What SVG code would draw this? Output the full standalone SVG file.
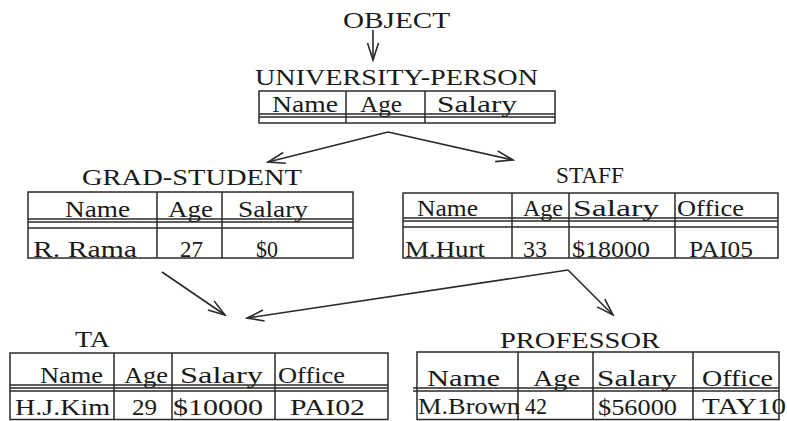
<svg xmlns="http://www.w3.org/2000/svg" width="787" height="421" viewBox="0 0 787 421">
<style>
.t{font-family:"Liberation Serif","Times New Roman",serif;font-size:24px;fill:#1a1a1a}
.c{font-family:"Liberation Serif","Times New Roman",serif;font-size:23px;fill:#1a1a1a}
.b{fill:none;stroke:#2a2a2a;stroke-width:1.5}
.a{fill:none;stroke:#2a2a2a;stroke-width:1.6}
</style>
<defs>
<marker id="arr" markerUnits="userSpaceOnUse" markerWidth="20" markerHeight="14" refX="18" refY="7" orient="auto">
<path d="M1,1.5 L18,7 L1,12.5" fill="none" stroke="#2a2a2a" stroke-width="1.6"/>
</marker>
</defs>
<rect width="787" height="421" fill="#ffffff"/>

<g id="object">
<text class="t" x="343" y="28" textLength="107" lengthAdjust="spacingAndGlyphs">OBJECT</text>
</g>

<g id="university-person">
<text class="t" x="255" y="85" textLength="283" lengthAdjust="spacingAndGlyphs">UNIVERSITY-PERSON</text>
<rect class="b" x="259" y="91" width="296" height="32"/>
<path class="b" d="M259,114 H555 M259,117 H555 M346,91 V123 M425,91 V123"/>
<text class="c" x="272" y="112" textLength="66" lengthAdjust="spacingAndGlyphs">Name</text>
<text class="c" x="360" y="112" textLength="42" lengthAdjust="spacingAndGlyphs">Age</text>
<text class="c" x="437" y="112" textLength="80" lengthAdjust="spacingAndGlyphs">Salary</text>
</g>

<g id="grad-student">
<text class="t" x="82" y="185" textLength="220" lengthAdjust="spacingAndGlyphs">GRAD-STUDENT</text>
<rect class="b" x="28" y="192" width="325" height="66"/>
<path class="b" d="M28,219 H353 M28,222 H353 M28,228 H353 M157,192 V258 M222,192 V258"/>
<text class="c" x="65" y="217" textLength="65" lengthAdjust="spacingAndGlyphs">Name</text>
<text class="c" x="168" y="217" textLength="45" lengthAdjust="spacingAndGlyphs">Age</text>
<text class="c" x="238" y="217" textLength="70" lengthAdjust="spacingAndGlyphs">Salary</text>
<text class="c" x="33" y="257" textLength="104" lengthAdjust="spacingAndGlyphs">R. Rama</text>
<text class="c" x="180" y="257" textLength="23" lengthAdjust="spacingAndGlyphs">27</text>
<text class="c" x="256" y="257" textLength="22" lengthAdjust="spacingAndGlyphs">$0</text>
</g>

<g id="staff">
<text class="t" x="556" y="183" textLength="68" lengthAdjust="spacingAndGlyphs">STAFF</text>
<rect class="b" x="403" y="193" width="375" height="65"/>
<path class="b" d="M403,218 H778 M403,221 H778 M403,227 H778 M512,193 V258 M569,193 V258 M675,193 V258"/>
<text class="c" x="417" y="216" textLength="61" lengthAdjust="spacingAndGlyphs">Name</text>
<text class="c" x="523" y="216" textLength="40" lengthAdjust="spacingAndGlyphs">Age</text>
<text class="c" x="573" y="216" textLength="86" lengthAdjust="spacingAndGlyphs">Salary</text>
<text class="c" x="677" y="216" textLength="67" lengthAdjust="spacingAndGlyphs">Office</text>
<text class="c" x="405" y="257" textLength="80" lengthAdjust="spacingAndGlyphs">M.Hurt</text>
<text class="c" x="523" y="257" textLength="24" lengthAdjust="spacingAndGlyphs">33</text>
<text class="c" x="572" y="257" textLength="78" lengthAdjust="spacingAndGlyphs">$18000</text>
<text class="c" x="689" y="257" textLength="64" lengthAdjust="spacingAndGlyphs">PAI05</text>
</g>

<g id="ta">
<text class="t" x="75" y="347" textLength="35" lengthAdjust="spacingAndGlyphs">TA</text>
<rect class="b" x="10" y="353" width="378" height="66.5"/>
<path class="b" d="M10,385 H388 M10,388 H388 M10,391 H388 M114,353 V420 M172,353 V420 M275,353 V420"/>
<text class="c" x="40" y="383" textLength="63" lengthAdjust="spacingAndGlyphs">Name</text>
<text class="c" x="124" y="383" textLength="44" lengthAdjust="spacingAndGlyphs">Age</text>
<text class="c" x="180" y="383" textLength="83" lengthAdjust="spacingAndGlyphs">Salary</text>
<text class="c" x="278" y="383" textLength="67" lengthAdjust="spacingAndGlyphs">Office</text>
<text class="c" x="15" y="415" textLength="95" lengthAdjust="spacingAndGlyphs">H.J.Kim</text>
<text class="c" x="132" y="415" textLength="25" lengthAdjust="spacingAndGlyphs">29</text>
<text class="c" x="173" y="415" textLength="90" lengthAdjust="spacingAndGlyphs">$10000</text>
<text class="c" x="290" y="415" textLength="75" lengthAdjust="spacingAndGlyphs">PAI02</text>
</g>

<g id="professor">
<text class="t" x="500" y="348" textLength="160" lengthAdjust="spacingAndGlyphs">PROFESSOR</text>
<rect class="b" x="417" y="352" width="362" height="67.5"/>
<path class="b" d="M413,388 H779 M413,391 H779 M518,352 V420 M593,352 V420 M693,352 V420"/>
<text class="c" x="427" y="386" textLength="73" lengthAdjust="spacingAndGlyphs">Name</text>
<text class="c" x="533" y="386" textLength="47" lengthAdjust="spacingAndGlyphs">Age</text>
<text class="c" x="597" y="386" textLength="80" lengthAdjust="spacingAndGlyphs">Salary</text>
<text class="c" x="702" y="386" textLength="71" lengthAdjust="spacingAndGlyphs">Office</text>
<text class="c" x="418" y="414" textLength="102" lengthAdjust="spacingAndGlyphs">M.Brown</text>
<text class="c" x="525" y="414" textLength="22" lengthAdjust="spacingAndGlyphs">42</text>
<text class="c" x="598" y="415" textLength="79" lengthAdjust="spacingAndGlyphs">$56000</text>
<text class="c" x="702" y="414" textLength="84" lengthAdjust="spacingAndGlyphs">TAY10</text>
</g>

<g id="connectors">
<line class="a" x1="373" y1="30" x2="373" y2="60" marker-end="url(#arr)"/>
<path class="a" d="M388,132 L268,162" marker-end="url(#arr)"/>
<path class="a" d="M388,132 L513,160" marker-end="url(#arr)"/>
<path class="a" d="M162,272 L225,315" marker-end="url(#arr)"/>
<path class="a" d="M568,270 L247,318" marker-end="url(#arr)"/>
<path class="a" d="M568,270 L613,315" marker-end="url(#arr)"/>
</g>
</svg>
